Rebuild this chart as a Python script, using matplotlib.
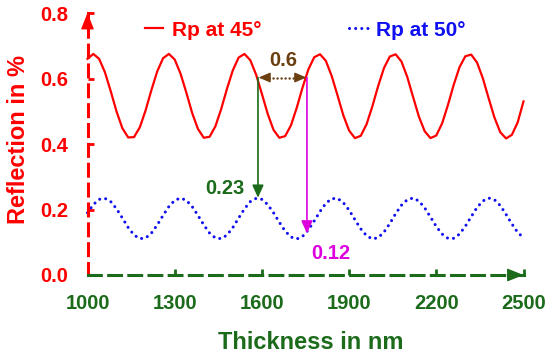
import matplotlib
matplotlib.use("Agg")
import matplotlib.pyplot as plt
from matplotlib.lines import Line2D

plt.rcParams['font.family'] = ['Liberation Sans', 'DejaVu Sans']
plt.rcParams['font.weight'] = 'bold'

# Thickness samples (nm)
thickness = list(range(1000, 2501, 20))

# Rp at 45 deg
rp45 = [0.660, 0.675, 0.660, 0.619, 0.561, 0.499, 0.448, 0.420, 0.421, 0.451,
        0.503, 0.565, 0.622, 0.662, 0.675, 0.658, 0.615, 0.557, 0.495, 0.446,
        0.419, 0.422, 0.454, 0.507, 0.569, 0.625, 0.664, 0.675, 0.656, 0.612,
        0.553, 0.492, 0.443, 0.419, 0.424, 0.457, 0.511, 0.573, 0.628, 0.665,
        0.674, 0.654, 0.608, 0.549, 0.488, 0.441, 0.418, 0.425, 0.460, 0.515,
        0.577, 0.632, 0.667, 0.674, 0.652, 0.605, 0.544, 0.484, 0.439, 0.418,
        0.426, 0.463, 0.519, 0.581, 0.635, 0.668, 0.673, 0.649, 0.601, 0.540,
        0.481, 0.436, 0.417, 0.428, 0.466, 0.530]

# Rp at 50 deg
rp50 = [0.190, 0.215, 0.231, 0.234, 0.224, 0.202, 0.174, 0.145, 0.122, 0.111,
        0.113, 0.128, 0.153, 0.182, 0.209, 0.228, 0.235, 0.228, 0.209, 0.182,
        0.153, 0.128, 0.113, 0.111, 0.122, 0.145, 0.174, 0.202, 0.224, 0.234,
        0.231, 0.215, 0.190, 0.161, 0.134, 0.116, 0.110, 0.118, 0.138, 0.165,
        0.194, 0.219, 0.233, 0.234, 0.221, 0.198, 0.169, 0.141, 0.120, 0.110,
        0.114, 0.131, 0.157, 0.187, 0.213, 0.230, 0.235, 0.226, 0.205, 0.177,
        0.148, 0.125, 0.112, 0.112, 0.125, 0.149, 0.178, 0.206, 0.226, 0.235,
        0.230, 0.212, 0.185, 0.156, 0.130, 0.114]

x_ticks = [1000, 1300, 1600, 1900, 2200, 2500]
y_ticks = [0.0, 0.2, 0.4, 0.6, 0.8]
y_ticklabels = ['0.0', '0.2', '0.4', '0.6', '0.8']

# Annotation values
x_green, y_green_top, y_green_bot, green_label = 1586.5, 0.603, 0.236, '0.23'
x_mag, y_mag_top, y_mag_bot, mag_label = 1755, 0.603, 0.127, '0.12'
y_brown, brown_label = 0.603, '0.6'

RED = '#ff0000'
BLUE = '#1010f0'
GREEN = '#1b6b1b'
MAG = '#dd00dd'
BROWN = '#6b3f10'

fig = plt.figure(figsize=(5.5, 3.58), dpi=100)
ax = fig.add_axes([87.5 / 550, 1 - 275 / 358, 436 / 550, 262 / 358])

l1, = ax.plot(thickness, rp45, color=RED, lw=1.6, label='Rp at 45°', clip_on=False)
l2, = ax.plot(thickness, rp50, color=BLUE, lw=2.2, linestyle=(0, (0.01, 2.0)),
              dash_capstyle='round', label='Rp at 50°', clip_on=False)

ax.set_xlim(1000, 2500)
ax.set_ylim(0, 0.8)
ax.set_xticks(x_ticks)
ax.set_yticks(y_ticks)
ax.set_yticklabels(y_ticklabels)

for s in ['top', 'right']:
    ax.spines[s].set_visible(False)
ax.spines['left'].set_color(RED)
ax.spines['left'].set_linewidth(2.2)
ax.spines['left'].set_linestyle((0, (3.9, 2.6)))
ax.spines['bottom'].set_color(GREEN)
ax.spines['bottom'].set_linewidth(2.2)
ax.spines['bottom'].set_linestyle((0, (4.2, 2.4)))

ax.tick_params(axis='x', direction='in', length=4, width=2, color=GREEN,
               labelcolor=GREEN, labelsize=14.5, pad=14)
ax.tick_params(axis='y', direction='in', length=4, width=2, color=RED,
               labelcolor=RED, labelsize=14.5, pad=14)
for lab in ax.get_xticklabels() + ax.get_yticklabels():
    lab.set_fontweight('bold')

# axis arrowheads
ax.annotate('', xy=(0, 1), xycoords='axes fraction', xytext=(0, 1 - 14 / 262),
            arrowprops=dict(arrowstyle='-|>,head_length=1.0,head_width=0.4',
                            color=RED, lw=1, shrinkA=0, shrinkB=0, mutation_scale=10))
ax.annotate('', xy=(1, 0), xycoords='axes fraction', xytext=(1 - 15 / 436, 0),
            arrowprops=dict(arrowstyle='-|>,head_length=1.0,head_width=0.4',
                            color=GREEN, lw=1, shrinkA=0, shrinkB=0, mutation_scale=10))

ax.set_xlabel('Thickness in nm', color=GREEN, fontsize=17, fontweight='bold')
ax.set_ylabel('Reflection in %', color=RED, fontsize=17, fontweight='bold')
ax.xaxis.set_label_coords(0.5126, -0.212)
ax.yaxis.set_label_coords(-0.132, 0.519)

# vertical arrows
ax.annotate('', xy=(x_green, y_green_bot), xytext=(x_green, y_green_top),
            arrowprops=dict(arrowstyle='-|>,head_length=0.75,head_width=0.34',
                            color=GREEN, lw=1.2, shrinkA=0, shrinkB=0, mutation_scale=10))
ax.annotate('', xy=(x_mag, y_mag_bot), xytext=(x_mag, y_mag_top),
            arrowprops=dict(arrowstyle='-|>,head_length=0.75,head_width=0.34',
                            color=MAG, lw=1.2, shrinkA=0, shrinkB=0, mutation_scale=10))

# brown dotted double arrow
hl = 24
ax.plot([x_green + hl, x_mag - hl], [y_brown, y_brown], color=BROWN, lw=1.8,
        linestyle=(0, (0.01, 1.6)), dash_capstyle='round')
ax.annotate('', xy=(x_green + 2, y_brown), xytext=(x_green + hl, y_brown),
            arrowprops=dict(arrowstyle='-|>,head_length=0.7,head_width=0.3',
                            color=BROWN, lw=1, shrinkA=0, shrinkB=0, mutation_scale=10))
ax.annotate('', xy=(x_mag - 2, y_brown), xytext=(x_mag - hl, y_brown),
            arrowprops=dict(arrowstyle='-|>,head_length=0.7,head_width=0.3',
                            color=BROWN, lw=1, shrinkA=0, shrinkB=0, mutation_scale=10))

ax.text(1672.5, 0.656, brown_label, color=BROWN, fontsize=14.5, fontweight='bold',
        ha='center', va='center')
ax.text(1473, 0.263, green_label, color=GREEN, fontsize=14.5, fontweight='bold',
        ha='center', va='center')
ax.text(1838, 0.067, mag_label, color=MAG, fontsize=14.5, fontweight='bold',
        ha='center', va='center')

leg = fig.legend(handles=[l1, l2], ncol=2, frameon=False, loc='center',
                 bbox_to_anchor=(305 / 550, 1 - 30 / 358), fontsize=15,
                 handlelength=0.9, handletextpad=0.4, columnspacing=4.2,
                 borderpad=0, borderaxespad=0)
for t, c in zip(leg.get_texts(), [RED, BLUE]):
    t.set_color(c)
    t.set_fontweight('bold')

fig.savefig('out.png', dpi=100)
